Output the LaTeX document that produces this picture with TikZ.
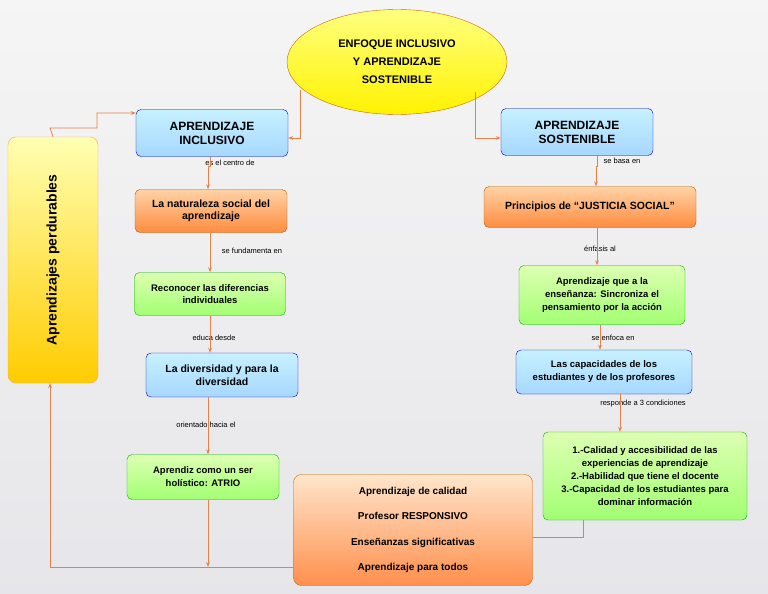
\documentclass[tikz,border=0pt]{standalone}
\usepackage{fontspec}
\setmainfont{Liberation Sans}
\usetikzlibrary{shapes.geometric,arrows.meta,shadows}
\definecolor{ln}{HTML}{E8804A}
\begin{document}
\begin{tikzpicture}[x=1pt,y=-1pt,
 box/.style={rounded corners=5pt,draw=#1!70!black,line width=0.4pt,align=center,font=\bfseries\fontsize{10.5}{12.5}\selectfont,inner sep=2pt},
 bl/.style={box=blue,top color=blue!25!cyan!22,bottom color=blue!45!cyan!35},
 og/.style={box=orange,top color=orange!35,bottom color=orange!80!red!75},
 gr/.style={box=green,top color=green!25!lime!30,bottom color=green!55!lime!55},
 lab/.style={font=\fontsize{7.5}{9}\selectfont,inner sep=1pt},
 ar/.style={draw=ln,line width=0.8pt,-{Stealth[length=5pt]}},
 pl/.style={draw=ln,line width=0.8pt}]
\useasboundingbox[top color=gray!8,bottom color=blue!8!gray!18] (0,0) rectangle (768,594);
\node[ellipse,draw=orange!80!black,top color=yellow!50,bottom color=yellow!90!orange,minimum width=220,minimum height=105,align=center,font=\bfseries\fontsize{11}{18}\selectfont] (e) at (397,62) {ENFOQUE INCLUSIVO\\Y APRENDIZAJE\\SOSTENIBLE};
\node[bl,minimum width=152,minimum height=47,font=\bfseries\fontsize{12}{14}\selectfont] (ai) at (212,133) {APRENDIZAJE\\INCLUSIVO};
\node[bl,minimum width=152,minimum height=47,font=\bfseries\fontsize{12}{14}\selectfont] (as) at (577,132) {APRENDIZAJE\\SOSTENIBLE};
\node[rounded corners=8pt,draw=orange!70,top color=yellow!30,bottom color=orange!40!yellow,minimum width=90,minimum height=246] (ap) at (53,260) {};
\node[rotate=90,font=\bfseries\fontsize{14}{16}\selectfont] at (ap) {Aprendizajes perdurables};
\node[og,minimum width=152,minimum height=43] (n1) at (211,211) {La naturaleza social del\\aprendizaje};
\node[og,minimum width=212,minimum height=41] (p1) at (590,207) {Principios de “JUSTICIA SOCIAL”};
\node[gr,minimum width=151,minimum height=43,font=\bfseries\fontsize{9.5}{11.5}\selectfont] (n2) at (210,294) {Reconocer las diferencias\\individuales};
\node[gr,minimum width=166,minimum height=59,font=\bfseries\fontsize{9.5}{13}\selectfont] (p2) at (602,295) {Aprendizaje que a la\\enseñanza: Sincroniza el\\pensamiento por la acción};
\node[bl,minimum width=152,minimum height=44] (n3) at (222,375) {La diversidad y para la\\diversidad};
\node[bl,minimum width=176,minimum height=44,font=\bfseries\fontsize{9.5}{13}\selectfont] (p3) at (604,372) {Las capacidades de los\\estudiantes y de los profesores};
\node[gr,minimum width=152,minimum height=45,font=\bfseries\fontsize{9.5}{13}\selectfont] (n4) at (203,477) {Aprendiz como un ser\\holístico: ATRIO};
\node[gr,minimum width=204,minimum height=88,font=\bfseries\fontsize{9.5}{13}\selectfont] (p4) at (645,476) {1.-Calidad y accesibilidad de las\\experiencias de aprendizaje\\2.-Habilidad que tiene el docente\\3.-Capacidad de los estudiantes para\\dominar información};
\node[rounded corners=8pt,draw=orange!80!black,top color=orange!20,bottom color=orange!75!red!70,minimum width=239,minimum height=111,align=center,font=\bfseries\fontsize{10}{25.5}\selectfont] (q) at (413,530) {Aprendizaje de calidad\\Profesor RESPONSIVO\\Enseñanzas significativas\\Aprendizaje para todos};
% labels
\node[lab] (l1) at (230,163) {es el centro de};
\node[lab] (l2) at (252,251) {se fundamenta en};
\node[lab] (l3) at (214,338) {educa desde};
\node[lab] (l4) at (206,425) {orientado hacia el};
\node[lab] (r1) at (622,161) {se basa en};
\node[lab] (r2) at (600,249) {énfasis al};
\node[lab] (r3) at (613,338) {se enfoca en};
\node[lab] (r4) at (643,404) {responde a 3 condiciones};
% connectors
\coordinate (c1) at (300,90); \coordinate (c2) at (475,92);
\draw[ar] (c1) -- (300,138) -- (ai.east|-0,138);
\draw[ar] (c2) -- (475,138) -- (as.west|-0,138);
\draw[ar] (ap.north) -- (50,128) -- (97,128) -- (97,113) -- (ai.west|-0,113);
\draw[ar] (210,157) -- (210,166) -- (208,166) -- (n1.north-|208,0);
\draw[ar] (210,233) -- (n2.north-|210,0);
\draw[ar] (210,316) -- (n3.north-|210,0);
\draw[ar] (208,397) -- (n4.north-|208,0);
\draw[ar] (597,156) -- (597,166) -- (596,166) -- (p1.north-|596,0);
\draw[ar] (597,228) -- (p2.north-|597,0);
\draw[ar] (600,325) -- (p3.north-|600,0);
\draw[ar] (620,394) -- (p4.north-|620,0);
\draw[ar] (208,500) -- (208,567);
\draw[ar] (q.west|-0,567) -- (50,567) -- (ap.south-|50,0);
\draw[pl] (p4.south-|583,0) -- (583,537) -- (q.east|-0,537);
\end{tikzpicture}
\end{document}
